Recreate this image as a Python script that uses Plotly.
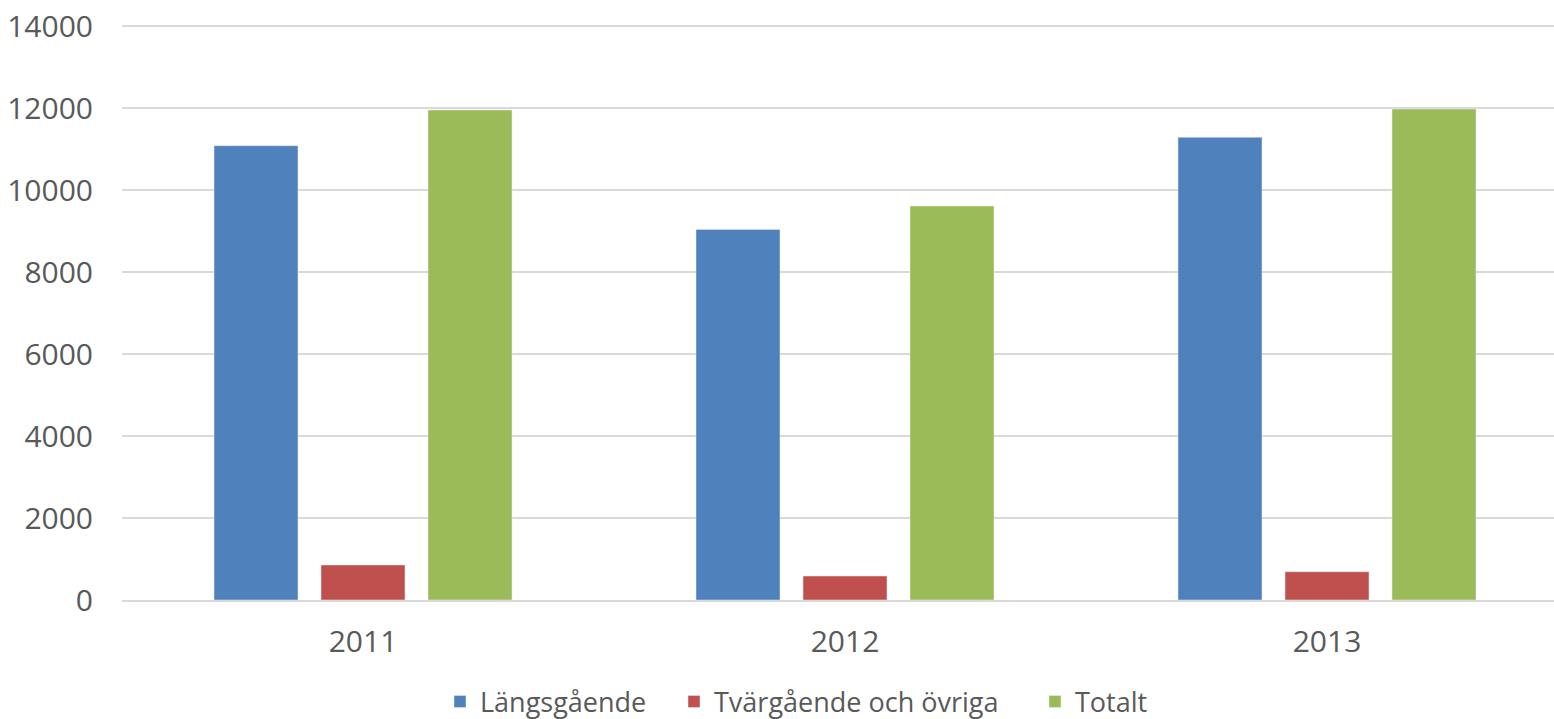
import plotly.graph_objects as go

years = ["2011", "2012", "2013"]
langsgaende = [11080, 9040, 11285]
tvargaende = [855, 585, 690]
totalt = [11950, 9610, 11975]
y_ticks = [0, 2000, 4000, 6000, 8000, 10000, 12000, 14000]

FONT = "Open Sans"
TXT = "#595959"
FS_TICK = 30
FS_LEG = 27

W, H = 1554, 719
L, R, T, B = 122, 0, 25, 119
plot_w = W - L - R
cat_w = 482.0

fig = go.Figure()
fig.add_trace(go.Bar(name="Längsgående", x=years, y=langsgaende,
                     marker_color="#4F81BD", legend="legend"))
fig.add_trace(go.Bar(name="Tvärgående och övriga", x=years, y=tvargaende,
                     marker_color="#C0504D", legend="legend2"))
fig.add_trace(go.Bar(name="Totalt", x=years, y=totalt,
                     marker_color="#9BBB59", legend="legend3"))

leg_lefts = [440, 674, 1035]
leg_y = (H - 702) / H


def leg(xl):
    return dict(xref="container", yref="container", x=xl / W, xanchor="left",
                y=leg_y, yanchor="middle", orientation="h",
                font=dict(family=FONT, size=FS_LEG, color=TXT),
                bgcolor="rgba(0,0,0,0)", borderwidth=0, itemwidth=30)


fig.update_layout(
    width=W, height=H,
    margin=dict(l=L, r=R, t=T, b=B, pad=0, autoexpand=False),
    paper_bgcolor="white", plot_bgcolor="white",
    barmode="group", bargap=0.334, bargroupgap=0.215,
    font=dict(family=FONT, size=FS_TICK, color=TXT),
    showlegend=True,
    legend=leg(leg_lefts[0]),
    legend2=leg(leg_lefts[1]),
    legend3=leg(leg_lefts[2]),
    xaxis=dict(type="category", range=[-0.5, -0.5 + plot_w / cat_w],
               showgrid=False, showline=True, linecolor="#D9D9D9", linewidth=1.5,
               ticks="", ticklabelstandoff=14, automargin=False,
               tickfont=dict(family=FONT, size=FS_TICK, color=TXT), fixedrange=True),
    yaxis=dict(range=[0, 14025], tickvals=y_ticks, ticktext=[str(v) for v in y_ticks],
               showgrid=True, gridcolor="#D9D9D9", gridwidth=1.5, zeroline=False,
               showline=False, ticks="", ticklabelstandoff=28, automargin=False,
               tickfont=dict(family=FONT, size=FS_TICK, color=TXT), fixedrange=True),
)

fig.write_html("out.html", config={"displayModeBar": False},
               post_script="document.body.style.margin='0';document.body.style.overflow='hidden';")
